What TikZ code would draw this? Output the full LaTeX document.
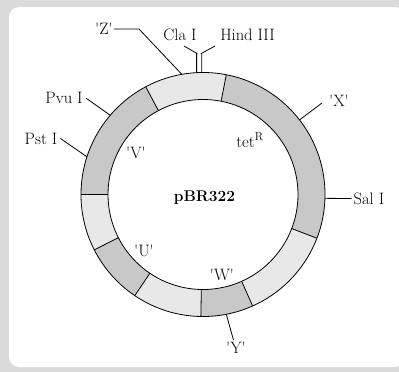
\documentclass[tikz,border=0pt]{standalone}
\usetikzlibrary{calc}
\definecolor{dk}{RGB}{200,200,200}
\definecolor{lt}{RGB}{232,232,232}
\definecolor{frame}{RGB}{218,218,218}
\begin{document}
\begin{tikzpicture}[x=1pt,y=1pt,
  lbl/.style={font=\fontsize{16.5}{19}\selectfont, inner sep=1pt},
  lead/.style={line width=0.8pt},
  ringline/.style={line width=0.8pt}]
\useasboundingbox (0,0) rectangle (399,-372);
\fill[frame] (0,0) rectangle (399,-372);
\fill[white, rounded corners=10pt] (9,-7) rectangle (405,-367);
\coordinate (C) at (203,-194.5);
\def\Ro{122}
\def\Ri{95}
\foreach \a/\b/\col in {-21/79/dk, 79/118/lt, 118/180/dk, 180/207/lt, 207/236/dk, 236/269/lt, 269/294/dk, 294/339/lt}
  \fill[\col] ($(C)+(\a:\Ro)$) arc[start angle=\a, end angle=\b, radius=\Ro] -- ($(C)+(\b:\Ri)$) arc[start angle=\b, end angle=\a, radius=\Ri] -- cycle;
\foreach \a in {-21,79,118,180,207,236,269,294}
  \draw[ringline] ($(C)+(\a:\Ri)$) -- ($(C)+(\a:\Ro)$);
\draw[ringline] (C) circle[radius=\Ro];
\draw[ringline] (C) circle[radius=\Ri];
% labels
\node[lbl] (Z) at (104,-29) {\textquotesingle Z\textquotesingle};
\node[lbl] (cla) at (180,-35) {Cla I};
\node[lbl] (hind) at (247.5,-35) {Hind III};
\node[lbl] (pvu) at (64,-98) {Pvu I};
\node[lbl] (pst) at (41,-138.5) {Pst I};
\node[lbl] (X) at (339,-101) {\textquotesingle X\textquotesingle};
\node[lbl] (sal) at (369,-198.5) {Sal I};
\node[lbl] (Y) at (236,-348) {\textquotesingle Y\textquotesingle};
\node[lbl] (V) at (136,-153) {\textquotesingle V\textquotesingle};
\node[lbl] (U) at (144,-251) {\textquotesingle U\textquotesingle};
\node[lbl] (W) at (222,-275) {\textquotesingle W\textquotesingle};
\node[lbl] (tet) at (250,-140) {tet\textsuperscript{R}};
\node[lbl, font=\fontsize{15.5}{18}\selectfont\bfseries] (pbr) at (204.5,-198) {pBR322};
% points on the ring
\coordinate (pZ) at ($(C)+(100:\Ro)$);
\coordinate (pc1) at ($(C)+(93:\Ro)$);
\coordinate (pc2) at ($(C)+(90.6:\Ro)$);
\coordinate (pPvu) at ($(C)+(139.5:\Ro)$);
\coordinate (pPst) at ($(C)+(162:\Ro)$);
\coordinate (pX) at ($(C)+(37.7:\Ro)$);
\coordinate (pSal) at ($(C)+(-1.8:\Ro)$);
\coordinate (pY) at ($(C)+(-79:\Ro)$);
\coordinate (claend) at (184,-46);
\coordinate (hindend) at (215,-46);
% leaders
\draw[lead] (Z.east) -- ++(25,0) -- (pZ);
\draw[lead] (pc1) |- ($(claend)+(12.7,-7.3)$) -- (claend);
\draw[lead] (pc2) |- ($(hindend)+(-13.3,-7.3)$) -- (hindend);
\draw[lead] ([xshift=2pt]pvu.east) -- (pPvu);
\draw[lead] ([xshift=2pt]pst.east) -- (pPst);
\draw[lead] ($(X.west)+(-6,-2)$) -- (pX);
\draw[lead] (pSal) -- ([xshift=-1pt]sal.west);
\draw[lead] (pY) -- ($(Y.north)+(-2.5,1)$);
\end{tikzpicture}
\end{document}
